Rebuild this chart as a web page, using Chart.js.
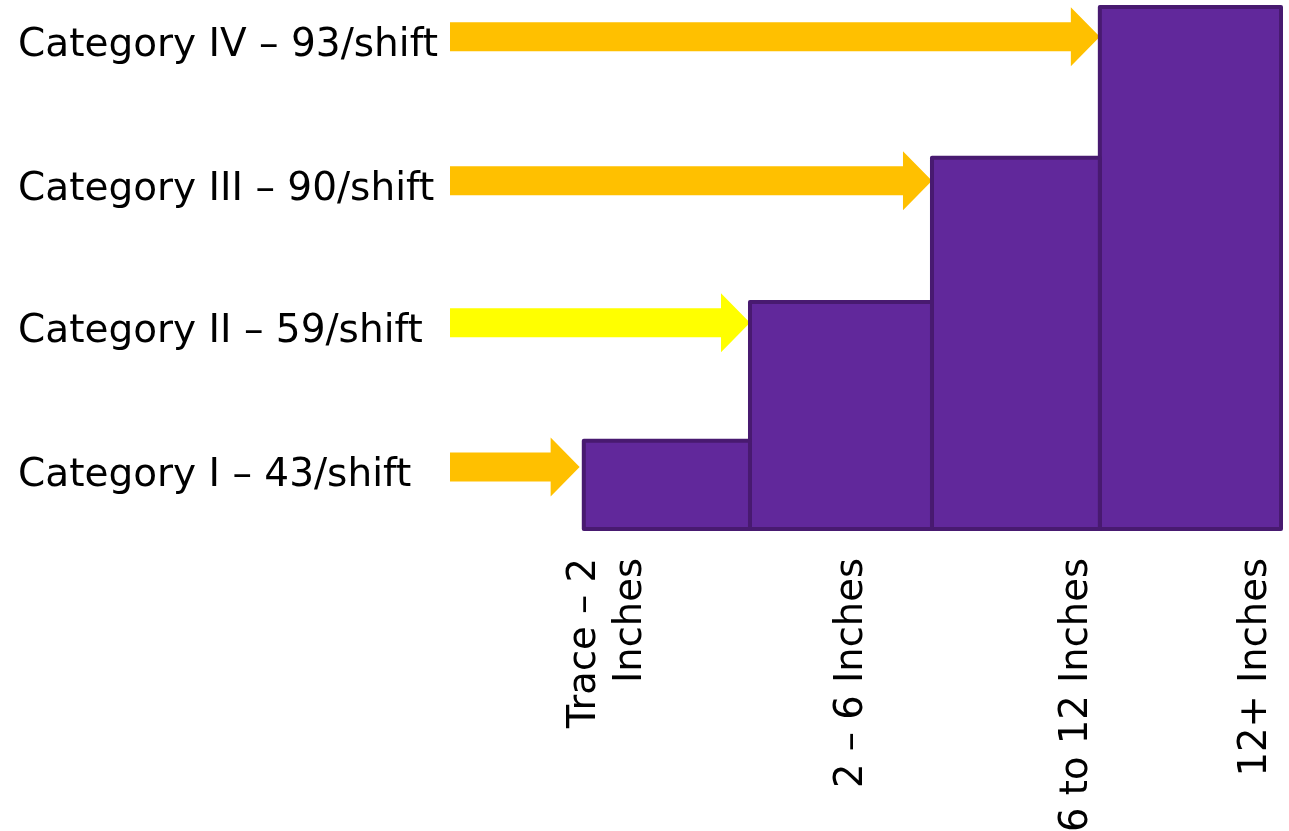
<!DOCTYPE html>
<html lang="en">
<head>
    <meta charset="UTF-8">
    <title>Snowfall Categories</title>
    <script src="https://cdn.jsdelivr.net/npm/chart.js"></script>
    <style>
        html, body { margin: 0; padding: 0; background: #ffffff; }
        .chart-box { width: 1289px; height: 831px; position: relative; }
    </style>
</head>
<body>
    <div class="chart-box"><canvas id="chart"></canvas></div>

    <script>
        // --- Data (x in arbitrary units, 0..100 across the plot) ---
        const binEdges = [16.1, 36.1, 58.0, 78.2, 100];
        const binHeights = [16.9, 43.5, 71.1, 100];
        const binLabels = [['Trace – 2', 'Inches'], '2 – 6 Inches', '6 to 12 Inches', '12+ Inches'];
        const binLabelPos = [16.2, 48.4, 75.5, 97.0];

        const categoryLabels = ['Category I – 43/shift', 'Category II – 59/shift', 'Category III – 90/shift', 'Category IV – 93/shift'];
        const arrowLevels = [11.9, 39.5, 66.7, 94.3];
        const arrowEnds = [15.6, 36.1, 58.0, 78.2];
        const arrowColors = ['#FFC000', '#FFFF00', '#FFC000', '#FFC000'];

        const FONT = 'DejaVu Sans';

        // --- Arrows pointing at each step, drawn under the bars ---
        const arrowPlugin = {
            id: 'arrows',
            beforeDatasetsDraw(chart) {
                const { ctx, scales: { x, y } } = chart;
                const shaft = 14.5, head = 29.5, headLen = 29;
                arrowLevels.forEach((lvl, i) => {
                    const x0 = x.getPixelForValue(x.min);
                    const x1 = x.getPixelForValue(arrowEnds[i]);
                    const cy = y.getPixelForValue(lvl);
                    ctx.save();
                    ctx.beginPath();
                    ctx.moveTo(x0, cy - shaft);
                    ctx.lineTo(x1 - headLen, cy - shaft);
                    ctx.lineTo(x1 - headLen, cy - head);
                    ctx.lineTo(x1, cy);
                    ctx.lineTo(x1 - headLen, cy + head);
                    ctx.lineTo(x1 - headLen, cy + shaft);
                    ctx.lineTo(x0, cy + shaft);
                    ctx.closePath();
                    ctx.fillStyle = arrowColors[i];
                    ctx.fill();
                    ctx.restore();
                });
            }
        };

        // each step is a closed outline, filled as a shape
        const datasets = binHeights.map((h, i) => ({
            data: [
                { x: binEdges[i], y: 0 },
                { x: binEdges[i], y: h },
                { x: binEdges[i + 1], y: h },
                { x: binEdges[i + 1], y: 0 },
                { x: binEdges[i], y: 0 }
            ],
            fill: 'shape',
            backgroundColor: '#61289B',
            borderColor: '#481A70',
            borderWidth: 4,
            borderJoinStyle: 'round',
            borderCapStyle: 'round',
            pointRadius: 0,
            tension: 0,
            clip: false
        }));

        new Chart(document.getElementById('chart'), {
            type: 'line',
            data: { datasets },
            plugins: [arrowPlugin],
            options: {
                responsive: true,
                maintainAspectRatio: false,
                animation: false,
                events: [],
                layout: { padding: { left: 18, top: 7, right: 8, bottom: 0 } },
                plugins: { legend: { display: false }, tooltip: { enabled: false } },
                scales: {
                    x: {
                        type: 'linear', min: 0, max: 100,
                        grid: { display: false }, border: { display: false },
                        afterBuildTicks: axis => { axis.ticks = binLabelPos.map(v => ({ value: v })); },
                        afterFit: axis => { axis.height = 302; axis.paddingLeft = 0; axis.paddingRight = 0; },
                        ticks: {
                            autoSkip: false, maxRotation: 90, minRotation: 90, padding: 21,
                            color: '#000000', font: { family: FONT, size: 38.5 },
                            callback: (v, i) => binLabels[i]
                        }
                    },
                    y: {
                        min: 0, max: 100,
                        grid: { display: false }, border: { display: false },
                        afterBuildTicks: axis => { axis.ticks = arrowLevels.map(v => ({ value: v })); },
                        afterFit: axis => { axis.width = 432; axis.paddingTop = 0; axis.paddingBottom = 0; },
                        ticks: {
                            crossAlign: 'far', labelOffset: 9,
                            color: '#000000', font: { family: FONT, size: 39 },
                            callback: (v, i) => categoryLabels[i]
                        }
                    }
                }
            }
        });
    </script>
</body>
</html>
